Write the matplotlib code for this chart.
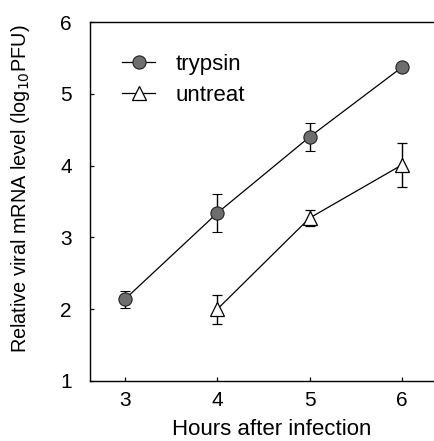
import matplotlib
matplotlib.use("Agg")
import matplotlib.pyplot as plt

plt.rcParams['font.family'] = ['Liberation Sans', 'DejaVu Sans']

hours_trypsin = [3, 4, 5, 6]
trypsin = [2.14, 3.34, 4.40, 5.37]
trypsin_err = [0.12, 0.27, 0.20, 0.02]

hours_untreat = [4, 5, 6]
untreat = [2.00, 3.27, 4.01]
untreat_err = [0.20, 0.11, 0.31]

xticks = [3, 4, 5, 6]
yticks = [1, 2, 3, 4, 5, 6]

fig = plt.figure(figsize=(4.34, 4.41), dpi=100)
ax = fig.add_axes([90/434, 1-381/441, 1-90/434, (381-22)/441])

ax.errorbar(hours_trypsin, trypsin, yerr=trypsin_err, color='black', lw=0.9,
            marker='o', ms=9.5, mfc='#6e6e6e', mec='#222222', mew=0.8,
            capsize=3.5, capthick=1.0, elinewidth=1.0, label='trypsin', zorder=3)
ax.errorbar(hours_untreat, untreat, yerr=untreat_err, color='black', lw=0.9,
            marker='^', ms=9.5, mfc='white', mec='black', mew=0.9,
            capsize=3.5, capthick=1.0, elinewidth=1.0, label='untreat', zorder=3)

ax.set_xlim(2.621, 6.347)
ax.set_ylim(1, 6)
ax.set_xticks(xticks)
ax.set_yticks(yticks)
ax.spines['right'].set_visible(False)
for s in ['left', 'bottom', 'top']:
    ax.spines[s].set_linewidth(1.0)
ax.tick_params(direction='in', length=3, width=0.9, labelsize=15)
ax.tick_params(axis='y', pad=13)
ax.tick_params(axis='x', pad=7.5)

ax.set_xlabel('Hours after infection', fontsize=16)
ax.xaxis.set_label_coords(0.529, -0.105)
ax.set_ylabel('Relative viral mRNA level (log$_{10}$PFU)', fontsize=14.3)
ax.yaxis.set_label_coords(-0.168, 0.535)

handles, labels = ax.get_legend_handles_labels()
handles = [h[0] for h in handles]
fig.legend(handles, labels, loc='upper left', bbox_to_anchor=(122/434, 1-54/441),
           frameon=False, fontsize=16, handlelength=1.5, handletextpad=0.9,
           borderpad=0, borderaxespad=0, labelspacing=0.45)

fig.savefig('out.png', dpi=100)
